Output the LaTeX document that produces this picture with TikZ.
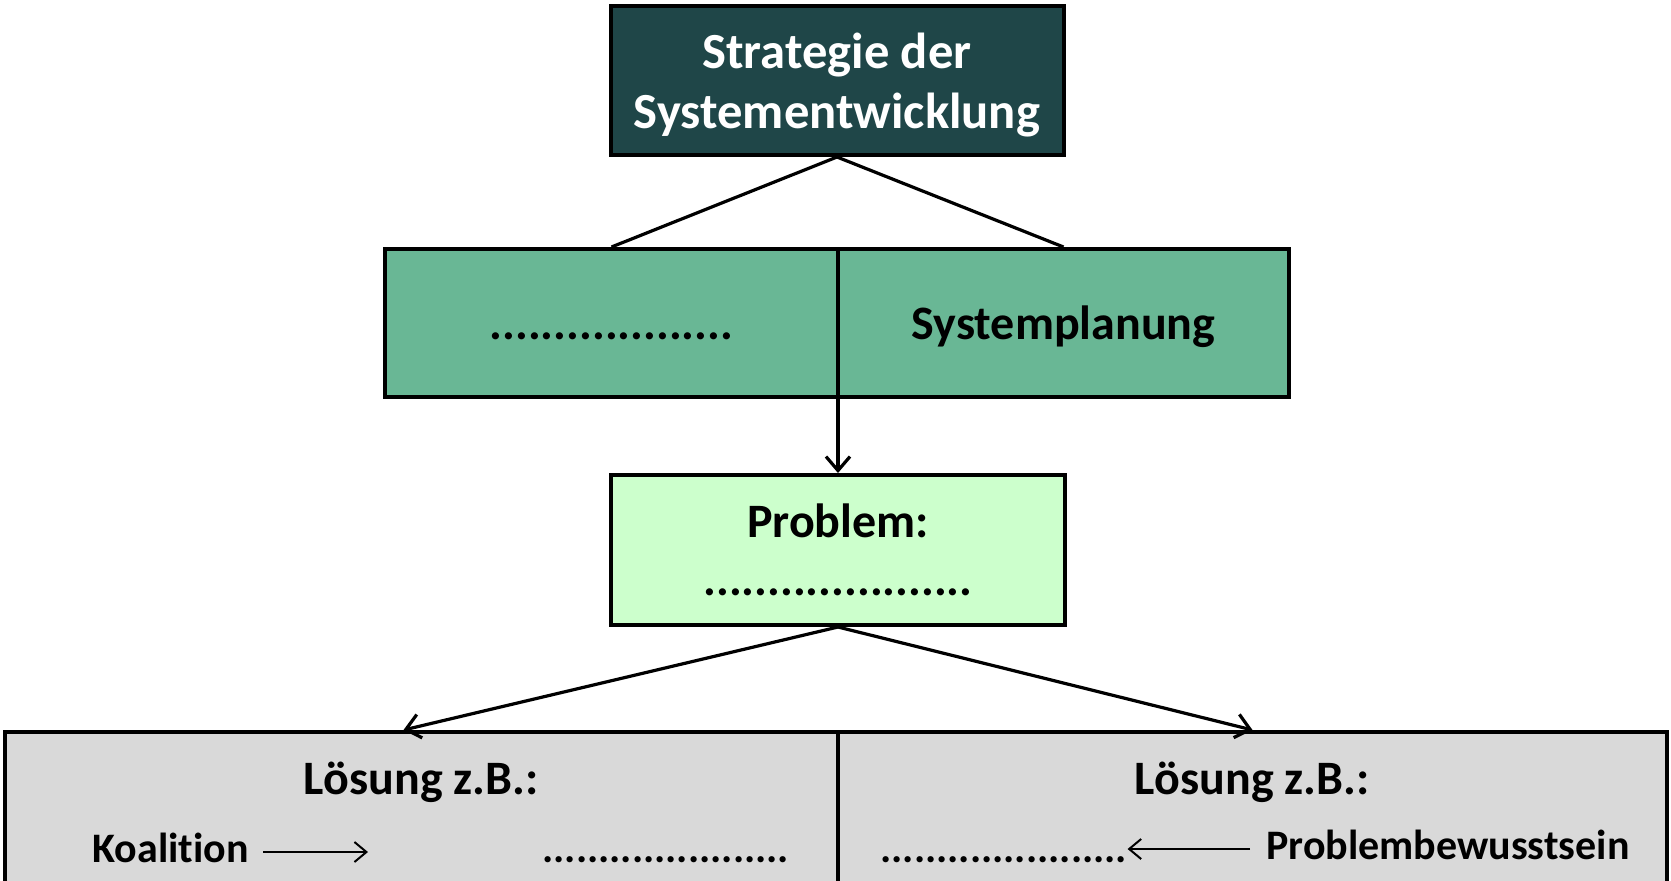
\documentclass[tikz,border=0pt]{standalone}
\usepackage{fontspec}
\setmainfont{Carlito}[Ligatures=NoCommon]
\usepackage{tikz}
\usetikzlibrary{arrows.meta}
\definecolor{sdteal}{HTML}{1F4648}
\definecolor{sdgreen}{HTML}{69B795}
\definecolor{sdmint}{HTML}{CCFFCC}
\definecolor{sdgrey}{HTML}{D9D9D9}

\begin{document}
\begin{tikzpicture}[x=0.5pt, y=-0.5pt,
    box/.style={draw=black, line width=2pt, inner sep=0pt, align=center,
        minimum width=226.5pt, minimum height=74.5pt,
        font=\fontsize{24pt}{29pt}\selectfont\bfseries},
    stratbox/.style={box, fill=sdteal, text=white, text depth=0pt,
        font=\fontsize{25.3pt}{30pt}\selectfont\bfseries},
    planbox/.style={box, fill=sdgreen, text height=19pt, text depth=3pt},
    probbox/.style={box, fill=sdmint},
    loesbox/.style={box, fill=sdgrey, minimum height=150pt},
    headtxt/.style={inner sep=0pt, font=\fontsize{24pt}{29pt}\selectfont\bfseries},
    hint/.style={inner sep=0pt, text height=14pt, text depth=4pt,
        font=\fontsize{21pt}{25pt}\selectfont\bfseries},
    link/.style={line width=1.6pt},
    flow/.style={line width=1.6pt, -{Straight Barb[length=7pt, width=12pt, line width=1.6pt]}},
    thinflow/.style={line width=1pt, -{Straight Barb[length=6pt, width=10pt, line width=1pt]}}]

        \useasboundingbox (0,0) rectangle (1671,880);
        \clip (0,0) rectangle (1671,880);

        % ----------------------------------------------------
        % Top: strategy
        % ----------------------------------------------------
        \node[stratbox] (strat) at (837,80.5) {Strategie der\\Systementwicklung};

        % ----------------------------------------------------
        % Middle: two halves
        % ----------------------------------------------------
        \node[planbox, minimum width=226.5pt, minimum height=74pt] (mleft) at (611.5,323) {...................};
        \node[planbox, minimum width=225.5pt, minimum height=74pt] (mright) at (1063.5,323) {Systemplanung};
        \draw[link] (strat.south) -- (mleft.north);
        \draw[link] (strat.south) -- (mright.north);

        % ----------------------------------------------------
        % Problem
        % ----------------------------------------------------
        \node[probbox, minimum width=227pt, minimum height=75pt] (prob) at (838,550) {Problem:\\.....................};
        \draw[flow] (prob.north |- mleft.south) -- (prob.north);

        % ----------------------------------------------------
        % Bottom: solutions (cut off by the page)
        % ----------------------------------------------------
        \node[loesbox, minimum width=416.5pt] (lleft) at (421.5,882) {};
        \node[loesbox, minimum width=414.5pt] (lright) at (1252.5,882) {};
        \draw[flow] (prob.south) -- ([xshift=-9pt]lleft.north);
        \draw[flow] (prob.south) -- (lright.north);

        \node[headtxt] (lsgL) at (421,782) {Lösung z.B.:};
        \node[headtxt] (lsgR) at (1252,782) {Lösung z.B.:};

        \node[hint, anchor=base west] (koal) at (92,862) {Koalition};
        \coordinate (koalend) at (368,852);
        \draw[thinflow] ([xshift=7pt]koal.east) -- (koal.east -| koalend);
        \node[hint, anchor=base west] (dotsL) at (542,862) {......................};

        \node[hint, anchor=base west] (dotsR) at (880,862) {......................};
        \node[hint, anchor=base west] (probbew) at (1266,859) {Problembewusstsein};
        \draw[thinflow] ([xshift=-8pt]probbew.west) -- (probbew.west -| dotsR.east);
    \end{tikzpicture}
\end{document}
